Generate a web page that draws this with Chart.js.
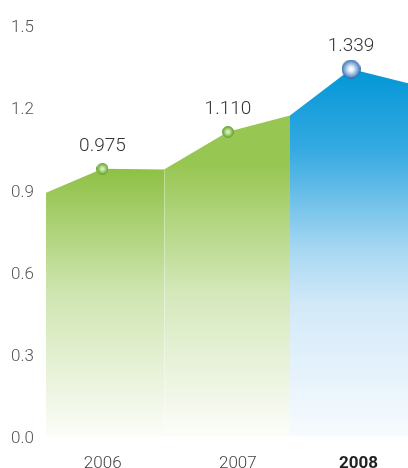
<!DOCTYPE html>
<html>
<head>
<meta charset="utf-8">
<script src="https://cdn.jsdelivr.net/npm/chart.js@4/dist/chart.umd.min.js"></script>
<style>
  html, body { margin: 0; padding: 0; background: #fff; }
  #wrap { width: 408px; height: 468px; }
</style>
</head>
<body>
<div id="wrap"><canvas id="chart" width="408" height="468"></canvas></div>
<script>
const years = ['2006', '2007', '2008'];
const pointValues = [0.975, 1.110, 1.339];
const pointPos = [2005.968, 2007.008, 2008.028];
// where the coloured blocks meet, and the line height there
const edgePos = [2005.5, 2006.478, 2007.522, 2008.5];
const edgeValues = [0.888, 0.973, 1.170, 1.287];
const yearLabelPos = [2005.97, 2007.09, 2008.09];
const yTicks = ['0.0', '0.3', '0.6', '0.9', '1.2', '1.5'];

const fillStops = [
  [[0.34, '#8cbf41'], [0.65, '#cfe5b0'], [1, '#fbfdf8']],
  [[0.34, '#98c652'], [0.65, '#d4e8ba'], [1, '#fcfdf9']],
  [[0.1, '#0096d6'], [0.3, '#34a9e1'], [0.55, '#a9d8f2'], [0.68, '#d2e9f8'], [1, '#f7fbfe']]
];

function makeSphere(size, inner, outer, rim) {
  const c = document.createElement('canvas');
  c.width = size; c.height = size;
  const g = c.getContext('2d');
  const r = size / 2;
  const grad = g.createRadialGradient(r, r, 0, r, r, r);
  grad.addColorStop(0, inner);
  grad.addColorStop(0.2, inner);
  grad.addColorStop(1, outer);
  g.fillStyle = grad;
  g.beginPath();
  g.arc(r, r, r - 0.5, 0, Math.PI * 2);
  g.fill();
  g.strokeStyle = rim;
  g.lineWidth = 1;
  g.stroke();
  return c;
}

const spheres = [
  makeSphere(12, '#d4efb4', '#5a9e27', '#6aa934'),
  makeSphere(12, '#d4efb4', '#5a9e27', '#6aa934'),
  makeSphere(19, '#f4faff', '#3b77c0', '#3a6aa8')
];

function gradientFor(i) {
  return function(context) {
    const area = context.chart.chartArea;
    if (!area) return fillStops[i][0][1];
    const g = context.chart.ctx.createLinearGradient(0, area.top, 0, area.bottom);
    fillStops[i].forEach(s => g.addColorStop(s[0], s[1]));
    return g;
  };
}

const datasets = years.map((year, i) => ({
  label: year,
  data: [
    { x: edgePos[i], y: edgeValues[i] },
    { x: pointPos[i], y: pointValues[i] },
    { x: edgePos[i + 1], y: edgeValues[i + 1] }
  ],
  fill: 'origin',
  backgroundColor: gradientFor(i),
  borderWidth: 0,
  tension: 0,
  pointRadius: ctx => ctx.dataIndex === 1 ? 6 : 0,
  pointStyle: spheres[i]
}));

// faint light line where the first two blocks meet
const seam = {
  id: 'seam',
  afterDatasetsDraw(chart) {
    const ctx = chart.ctx;
    const xs = chart.scales.x, ys = chart.scales.y;
    const x = Math.round(xs.getPixelForValue(edgePos[1])) + 0.5;
    ctx.save();
    ctx.strokeStyle = 'rgba(255,255,255,0.35)';
    ctx.lineWidth = 1;
    ctx.beginPath();
    ctx.moveTo(x, ys.getPixelForValue(edgeValues[1]) + 1);
    ctx.lineTo(x, ys.getPixelForValue(0));
    ctx.stroke();
    ctx.restore();
  }
};

const valueLabels = {
  id: 'valueLabels',
  afterDatasetsDraw(chart) {
    const ctx = chart.ctx;
    ctx.save();
    ctx.font = '300 19px Roboto';
    ctx.fillStyle = '#333';
    ctx.textAlign = 'center';
    ctx.textBaseline = 'middle';
    chart.data.datasets.forEach((ds, i) => {
      const pt = chart.getDatasetMeta(i).data[1];
      ctx.fillText(pointValues[i].toFixed(3), pt.x, pt.y - 23);
    });
    ctx.restore();
  }
};

Chart.defaults.font.family = 'Roboto';

new Chart(document.getElementById('chart').getContext('2d'), {
  type: 'line',
  data: { datasets },
  plugins: [seam, valueLabels],
  options: {
    responsive: false,
    animation: false,
    layout: { padding: { left: 11, top: 25, right: 0, bottom: 0 } },
    plugins: { legend: { display: false }, tooltip: { enabled: false } },
    scales: {
      x: {
        type: 'linear',
        min: edgePos[0],
        max: edgePos[3],
        grid: { display: false },
        border: { display: false },
        afterBuildTicks: scale => { scale.ticks = yearLabelPos.map(v => ({ value: v })); },
        afterFit: scale => { scale.height = 32; },
        ticks: {
          autoSkip: false,
          maxRotation: 0,
          padding: 10,
          color: ctx => ctx.index === 2 ? '#222' : '#444',
          font: ctx => ({ family: 'Roboto', size: 17, weight: ctx.index === 2 ? 'bold' : '300' }),
          callback: (v, i) => years[i]
        }
      },
      y: {
        min: 0,
        max: 1.5,
        grid: { display: false },
        border: { display: false },
        afterBuildTicks: scale => { scale.ticks = yTicks.map(t => ({ value: parseFloat(t) })); },
        afterFit: scale => { scale.width = 35; },
        ticks: {
          crossAlign: 'far',
          labelOffset: 3,
          color: '#555',
          font: { family: 'Roboto', size: 17, weight: '300' },
          callback: (v, i) => yTicks[i]
        }
      }
    }
  }
});
</script>
</body>
</html>
